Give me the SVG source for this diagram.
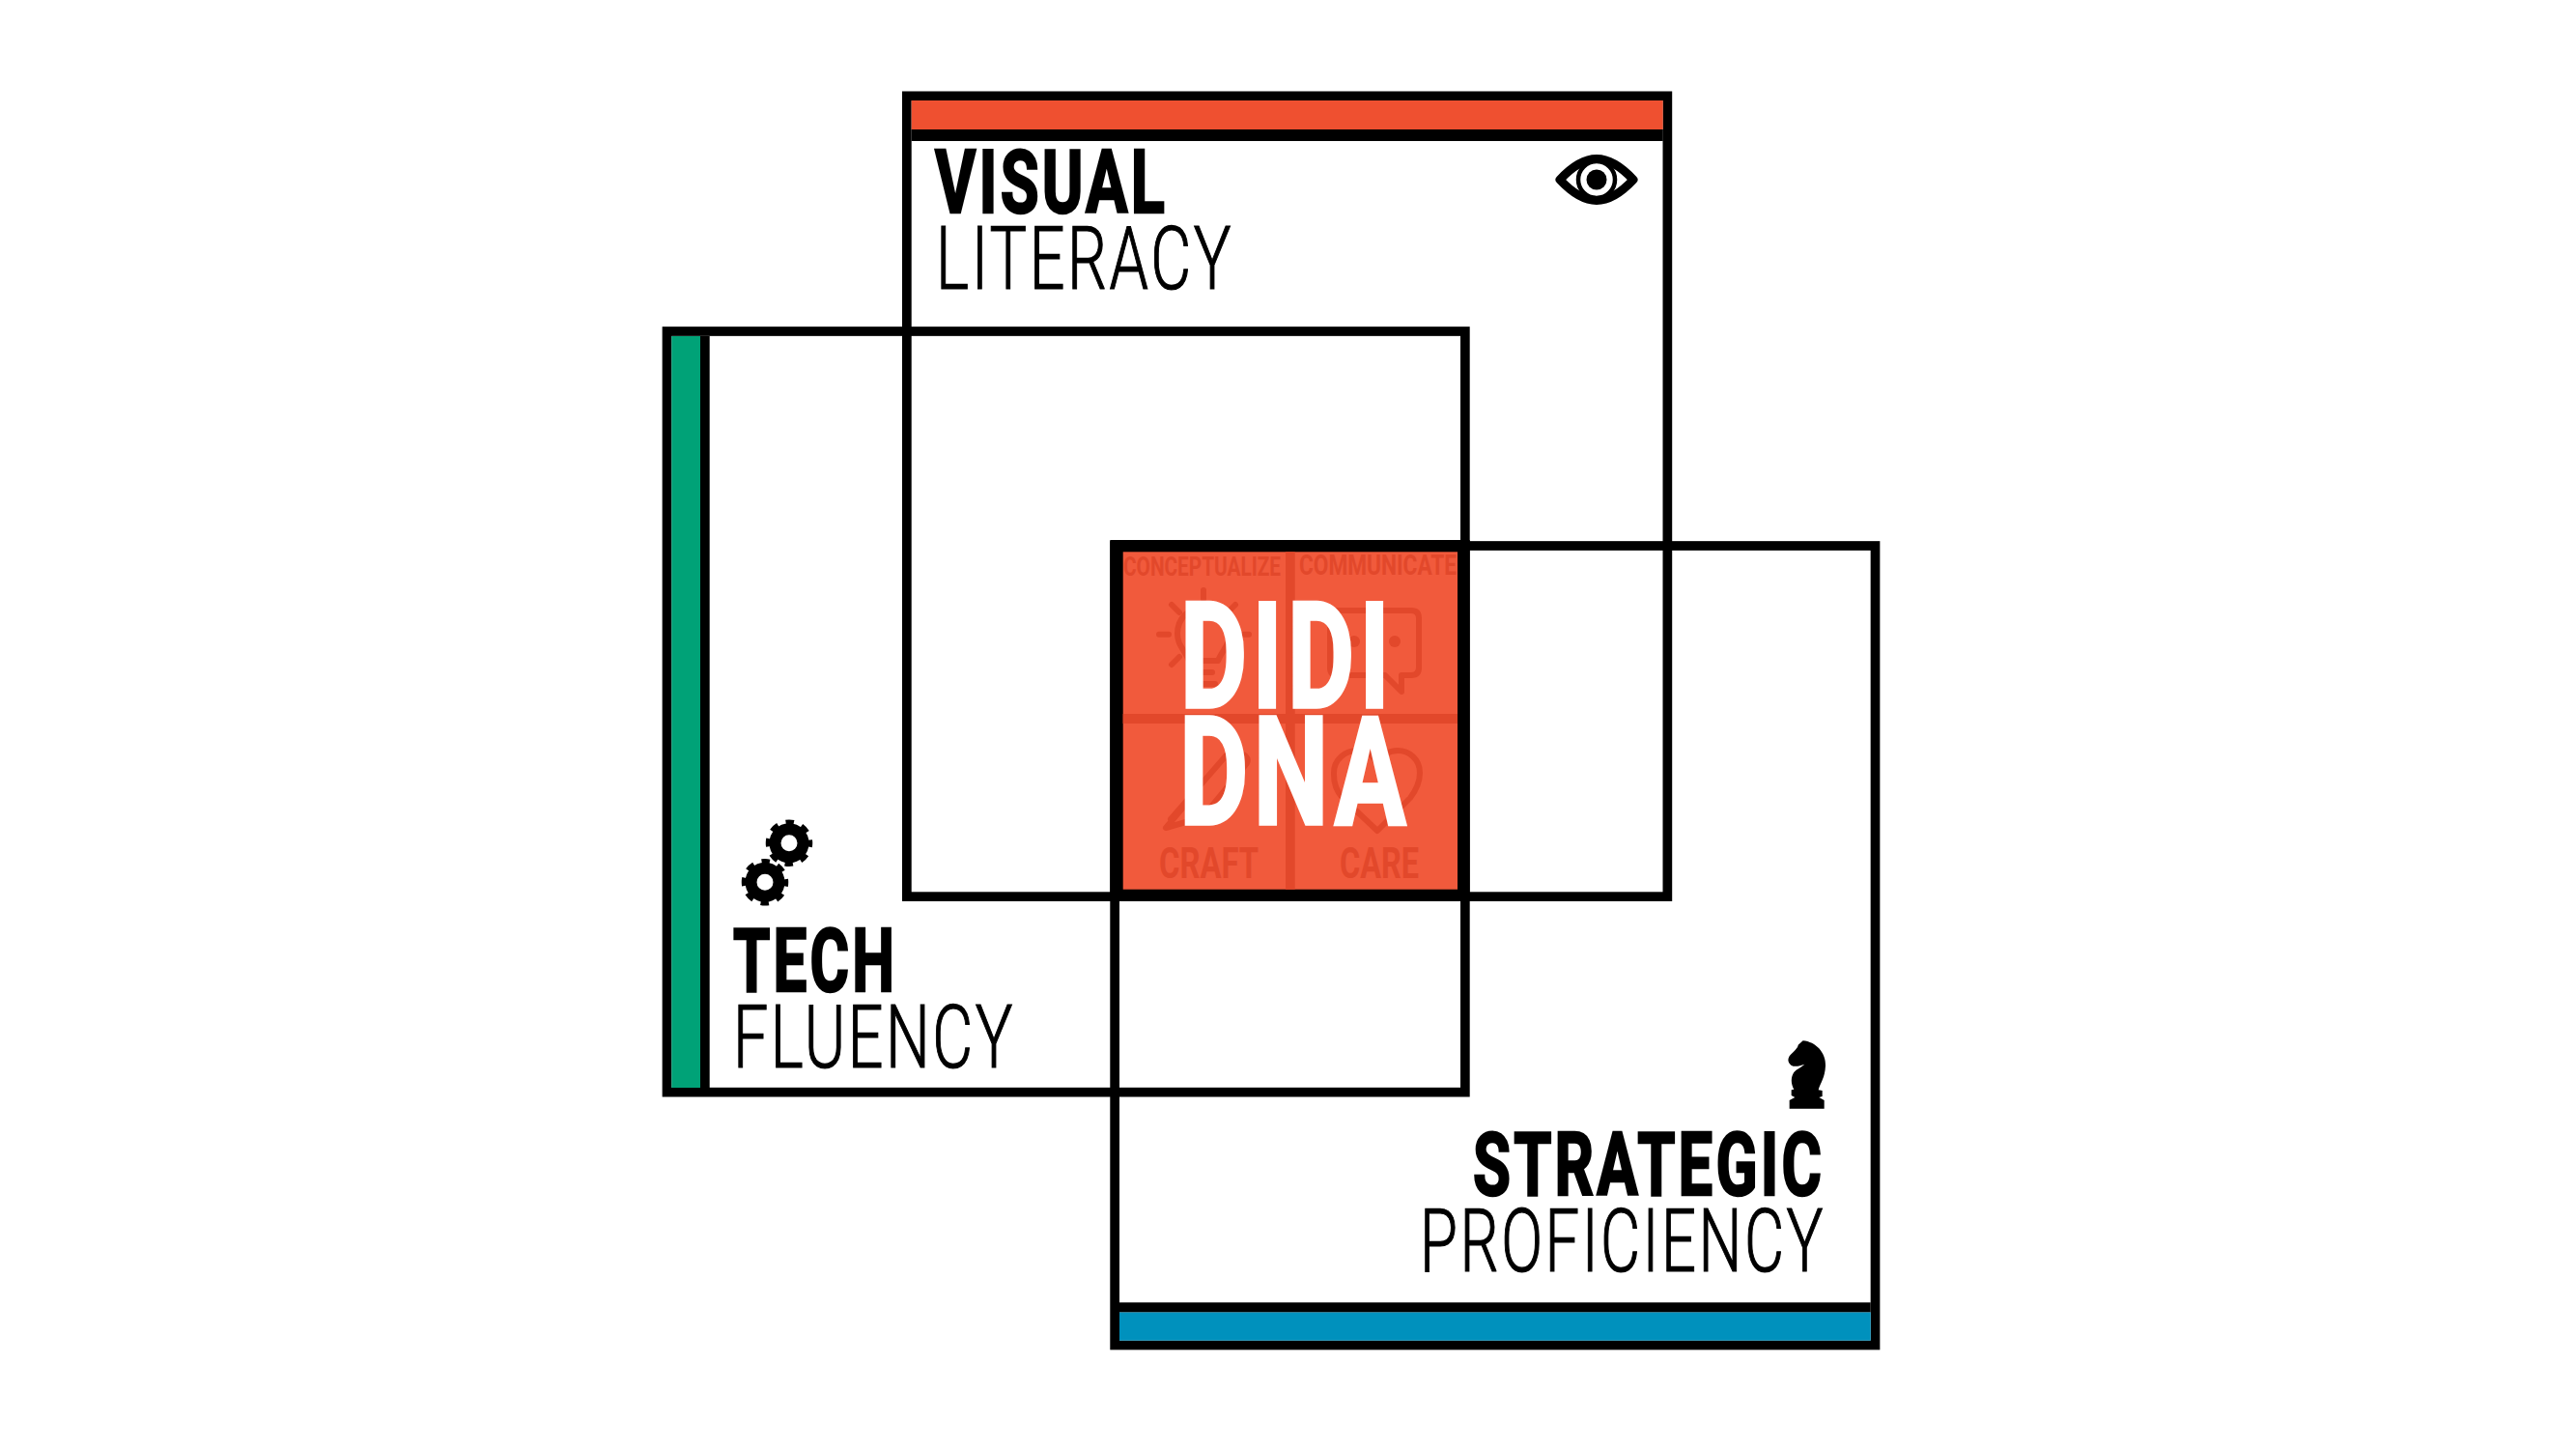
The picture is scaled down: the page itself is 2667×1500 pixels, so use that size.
<svg xmlns="http://www.w3.org/2000/svg" width="2667" height="1500" viewBox="0 0 2667 1500">
<style>
.frame{fill:none;stroke:#000;stroke-width:9.7}
.k{fill:#000}
.b{font-family:"Roboto","Liberation Sans",sans-serif;font-weight:700;font-size:90px;letter-spacing:.05em;fill:#000;stroke:#000;stroke-width:2.5}
.l{font-family:"Roboto","Liberation Sans",sans-serif;font-weight:300;font-size:90px;letter-spacing:.04em;fill:#000;stroke:#000;stroke-width:1.2}
.w{font-family:"Roboto","Liberation Sans",sans-serif;font-weight:700;letter-spacing:.05em;fill:#fff;stroke:#fff;stroke-width:3.5}
.m{font-family:"Roboto","Liberation Sans",sans-serif;font-weight:700;fill:#e2482b}
.ms{fill:none;stroke:#e2482b;stroke-width:6;stroke-linecap:round;stroke-linejoin:round}
</style>
<defs>
<g id="gear">
<circle r="21" fill="none" stroke="#000" stroke-width="6.5" stroke-dasharray="8.25 8.25" stroke-dashoffset="4.1"/>
<circle r="14.5" fill="none" stroke="#000" stroke-width="12"/>
</g>
</defs>
<rect width="2667" height="1500" fill="#fff"/>
<g id="visual-literacy">
<rect class="frame" x="938.85" y="99.35" width="787.5" height="828.8"/>
<rect x="943.7" y="104" width="778" height="30" fill="#ef5030"/>
<rect class="k" x="943.7" y="134" width="778" height="12"/>
<text class="b" x="968" y="220" textLength="241" lengthAdjust="spacingAndGlyphs">VISUAL</text>
<text class="l" x="969" y="299" textLength="308" lengthAdjust="spacingAndGlyphs">LITERACY</text>
<path d="M1615 186C1628 172 1640 164.5 1653 164.5C1666 164.5 1678 172 1691 186C1678 200 1666 207.5 1653 207.5C1640 207.5 1628 200 1615 186Z" fill="none" stroke="#000" stroke-width="9" stroke-linejoin="round"/>
<circle cx="1653" cy="186" r="19" fill="none" stroke="#000" stroke-width="4.5"/>
<circle cx="1653" cy="186" r="10.5"/>
</g>
<g id="tech-fluency">
<rect class="frame" x="690.5" y="343" width="826.35" height="787.65"/>
<rect x="695.3" y="348" width="29.7" height="778" fill="#00a277"/>
<rect class="k" x="725" y="348" width="9.7" height="778"/>
<use href="#gear" x="817" y="872.7"/>
<use href="#gear" x="792" y="913.3"/>
<text class="b" x="759" y="1026" textLength="170" lengthAdjust="spacingAndGlyphs">TECH</text>
<text class="l" x="759" y="1105" textLength="292" lengthAdjust="spacingAndGlyphs">FLUENCY</text>
</g>
<g id="strategic-proficiency">
<rect class="frame" x="1154.15" y="565" width="787.35" height="827.5"/>
<rect x="1159" y="1358.3" width="777.7" height="29.4" fill="#0091bd"/>
<rect class="k" x="1159" y="1348.3" width="777.7" height="10"/>
<path transform="translate(1450 1060) scale(.33333)" d="M1250 52C1290 55 1322 90 1320 130C1318 170 1305 180 1298 205L1310 207L1310 225L1300 228L1316 237L1316 263L1208 263L1208 237L1225 228L1214 222L1214 205L1222 203C1212 185 1212 165 1222 150C1230 140 1245 135 1255 125C1240 130 1225 135 1213 128C1203 120 1202 110 1208 100C1220 85 1235 75 1235 65Z"/>
<text class="b" x="1525" y="1236.7" textLength="364" lengthAdjust="spacingAndGlyphs">STRATEGIC</text>
<text class="l" x="1470" y="1316" textLength="420" lengthAdjust="spacingAndGlyphs">PROFICIENCY</text>
</g>
<g id="didi-dna">
<rect class="k" x="1149.3" y="559" width="372.4" height="374"/>
<rect x="1162.7" y="571.3" width="346.3" height="349.4" fill="#f15a3c"/>
<rect x="1331" y="571.3" width="9.7" height="349.4" fill="#e2482b"/>
<rect x="1162.7" y="739" width="346.3" height="10" fill="#e2482b"/>
<text class="m" x="1163" y="595.5" font-size="27" textLength="163" lengthAdjust="spacingAndGlyphs">CONCEPTUALIZE</text>
<text class="m" x="1345" y="595" font-size="30" textLength="163" lengthAdjust="spacingAndGlyphs">COMMUNICATE</text>
<text class="m" x="1200" y="909" font-size="44" textLength="103" lengthAdjust="spacingAndGlyphs">CRAFT</text>
<text class="m" x="1387" y="909" font-size="44" textLength="82" lengthAdjust="spacingAndGlyphs">CARE</text>
<g class="ms">
<path d="M1246 611V620M1213 626L1221 634M1279 626L1271 634M1200 656.7H1210M1282 656.7H1293M1213 688L1221 680"/>
<path d="M1234 708H1258M1237 696H1255M1231 684C1226 672 1219 668 1219 656C1219 640 1231 629 1246 629C1261 629 1273 640 1273 656C1273 668 1266 672 1261 684Z"/>
<path d="M1406 699H1385Q1377 699 1377 691V640Q1377 632 1385 632H1461Q1469 632 1469 640V691Q1469 699 1461 699H1451V716L1434 699Z"/>
<path d="M1234 825L1207 857L1245 846L1291 790Q1293 786 1290 783L1280 776Q1276 774 1273 778L1212 848"/>
<path d="M1426 860L1390 826C1380 815 1381 804 1381 800C1381 786 1393 777 1405 777C1414 777 1421 781 1426 790C1431 781 1438 777 1447 777C1459 777 1470 786 1470 800C1470 810 1466 818 1460 826Z"/>
</g>
<circle cx="1402" cy="664" r="6" fill="#e2482b"/>
<circle cx="1444" cy="664" r="6" fill="#e2482b"/>
<text class="w" x="1222" y="732" font-size="152" textLength="222" lengthAdjust="spacingAndGlyphs">DIDI</text>
<text class="w" x="1221" y="852.5" font-size="156" textLength="240" lengthAdjust="spacingAndGlyphs">DNA</text>
</g>
</svg>
